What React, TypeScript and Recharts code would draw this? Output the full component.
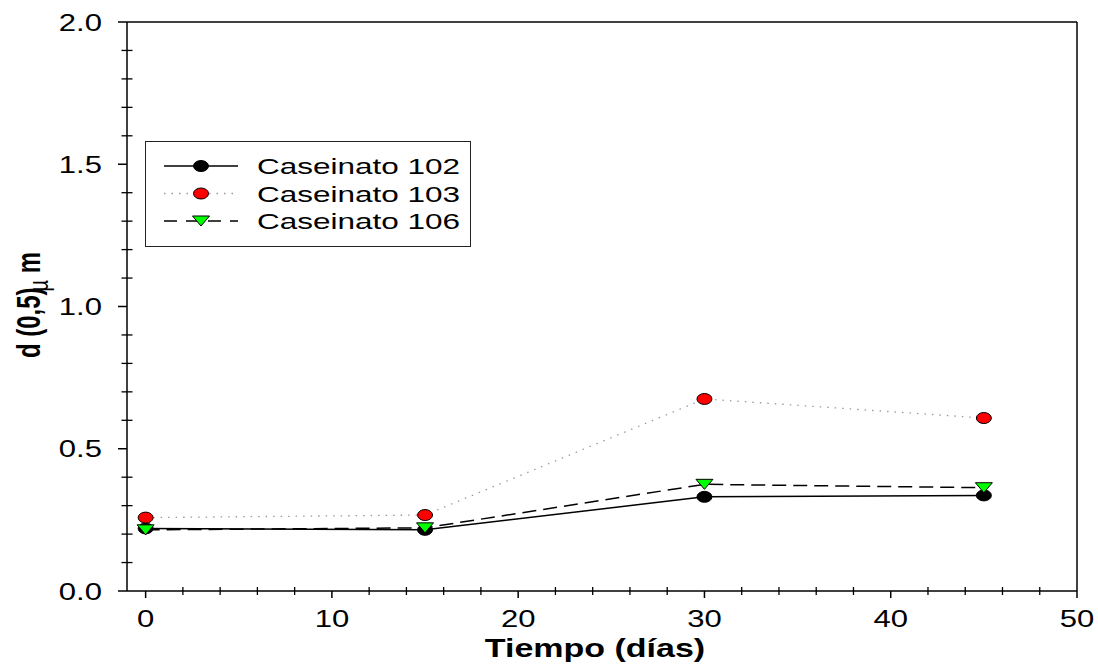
import { LineChart, Line, XAxis, YAxis, Legend, ReferenceLine } from 'recharts'

// tiempo (días) and d(0,5) values
const dias = [0, 15, 30, 45]
const caseinato102 = [0.22, 0.215, 0.331, 0.336]
const caseinato103 = [0.258, 0.267, 0.675, 0.608]
const caseinato106 = [0.215, 0.222, 0.375, 0.363]

const xTicks = [0, 2, 4, 6, 8, 10, 12, 14, 16, 18, 20, 22, 24, 26, 28, 30, 32, 34, 36, 38, 40, 42, 44, 46, 48, 50]
const yTicks = [0, 0.1, 0.2, 0.3, 0.4, 0.5, 0.6, 0.7, 0.8, 0.9, 1.0, 1.1, 1.2, 1.3, 1.4, 1.5, 1.6, 1.7, 1.8, 1.9, 2.0]

const data = dias.map((d, i) => ({
  dia: d,
  c102: caseinato102[i],
  c103: caseinato103[i],
  c106: caseinato106[i]
}))

const FONT = '"Liberation Sans", Arial, sans-serif'
const SX = 1.35

const series = [
  { key: 'c102', name: 'Caseinato 102', dash: undefined, color: '#000', width: 1.5, marker: 'black' },
  { key: 'c103', name: 'Caseinato 103', dash: '1.5 6', color: '#9a9a9a', width: 1.3, marker: 'red' },
  { key: 'c106', name: 'Caseinato 106', dash: '14 7', color: '#000', width: 1.5, marker: 'tri' }
]

function Marker({ cx, cy, kind }: { cx: number; cy: number; kind: string }) {
  if (kind === 'tri') {
    return (
      <polygon
        points={`${cx - 8.5},${cy - 5} ${cx + 8.5},${cy - 5} ${cx},${cy + 5}`}
        fill="#00ff00"
        stroke="#000"
        strokeWidth={1}
      />
    )
  }
  return (
    <ellipse
      cx={cx}
      cy={cy}
      rx={7.5}
      ry={5.5}
      fill={kind === 'red' ? '#ff0000' : '#000'}
      stroke="#000"
      strokeWidth={1}
    />
  )
}

const makeDot = (kind: string) => (props: any) => (
  <g key={`${kind}-${props.index}`}>
    <Marker cx={props.cx} cy={props.cy} kind={kind} />
  </g>
)

const XTick = (props: any) => {
  const { x, y, payload } = props
  const v = payload.value
  const major = v % 10 === 0
  return (
    <g>
      {major ? (
        <line x1={x} x2={x} y1={y} y2={y + 7} stroke="#000" strokeWidth={1.5} />
      ) : (
        <line x1={x} x2={x} y1={y - 4} y2={y + 4} stroke="#000" strokeWidth={1.3} />
      )}
      {major && (
        <text
          transform={`translate(${x},${y + 36}) scale(${SX},1)`}
          textAnchor="middle"
          fontFamily={FONT}
          fontSize={23}
          fill="#000"
        >
          {v}
        </text>
      )}
    </g>
  )
}

const YTick = (props: any) => {
  const { x, y, payload } = props
  const v = payload.value
  const major = Math.abs(v * 2 - Math.round(v * 2)) < 1e-6
  return (
    <g>
      {major ? (
        <line x1={x - 9} x2={x} y1={y} y2={y} stroke="#000" strokeWidth={1.5} />
      ) : (
        <line x1={x - 5.5} x2={x + 5.5} y1={y} y2={y} stroke="#000" strokeWidth={1.3} />
      )}
      {major && (
        <text
          transform={`translate(${x - 25},${y + 8.5}) scale(${SX},1)`}
          textAnchor="end"
          fontFamily={FONT}
          fontSize={23}
          fill="#000"
        >
          {v.toFixed(1)}
        </text>
      )}
    </g>
  )
}

const LegendBox = () => (
  <div
    style={{
      width: 326,
      height: 106,
      border: '1px solid #222',
      boxSizing: 'border-box',
      background: '#fff'
    }}
  >
    <svg width={324} height={104} style={{ display: 'block' }}>
      {series.map((s, i) => {
        const cy = 24 + i * 27.5
        return (
          <g key={s.key}>
            <line
              x1={18}
              x2={92}
              y1={cy}
              y2={cy}
              stroke={s.color}
              strokeWidth={s.width}
              strokeDasharray={s.key === 'c106' ? '13 9' : s.dash}
            />
            <Marker cx={55} cy={cy} kind={s.marker} />
            <text
              transform={`translate(111,${cy + 8}) scale(1.4,1)`}
              fontFamily={FONT}
              fontSize={22.5}
              fill="#000"
            >
              {s.name}
            </text>
          </g>
        )
      })}
    </svg>
  </div>
)

export default function App() {
  return (
    <div style={{ position: 'absolute', left: 0, top: 0, width: 1098, height: 664, background: '#fff' }}>
      <LineChart width={1098} height={664} data={data} margin={{ top: 22, right: 21, bottom: 33, left: 67 }}>
        <XAxis
          dataKey="dia"
          type="number"
          domain={[-1, 50]}
          ticks={xTicks}
          interval={0}
          allowDataOverflow
          height={40}
          tickSize={0}
          tickMargin={0}
          tickLine={false}
          axisLine={{ stroke: '#000', strokeWidth: 1.5 }}
          tick={<XTick />}
          label={{
            content: () => (
              <text
                transform="translate(595,657) scale(1.36,1)"
                textAnchor="middle"
                fontFamily={FONT}
                fontSize={25}
                fontWeight="bold"
                fill="#000"
              >
                Tiempo (días)
              </text>
            )
          }}
        />
        <YAxis
          type="number"
          domain={[0, 2]}
          ticks={yTicks}
          interval={0}
          width={60}
          tickSize={0}
          tickMargin={0}
          tickLine={false}
          axisLine={{ stroke: '#000', strokeWidth: 1.5 }}
          tick={<YTick />}
          label={{
            content: () => (
              <text
                transform={`translate(40,305) scale(${SX},1) rotate(-90)`}
                textAnchor="middle"
                fontFamily={FONT}
                fontSize={24}
                fontWeight="bold"
                fill="#000"
              >
                d (0,5)
                <tspan fontSize={20} fontWeight="normal" dx={-4} dy={6}>µ</tspan>
                <tspan dy={-6}> m</tspan>
              </text>
            )
          }}
        />
        <ReferenceLine y={2} stroke="#000" strokeWidth={1.5} />
        <ReferenceLine x={50} stroke="#000" strokeWidth={1.5} />
        {series.map((s) => (
          <Line
            key={s.key}
            dataKey={s.key}
            name={s.name}
            type="linear"
            stroke={s.color}
            strokeWidth={s.width}
            strokeDasharray={s.dash}
            dot={makeDot(s.marker)}
            activeDot={false}
            isAnimationActive={false}
          />
        ))}
        <Legend
          layout="vertical"
          align="center"
          verticalAlign="middle"
          content={<LegendBox />}
          wrapperStyle={{ position: 'absolute', left: 145, top: 141, width: 326, height: 106 }}
        />
      </LineChart>
    </div>
  )
}
